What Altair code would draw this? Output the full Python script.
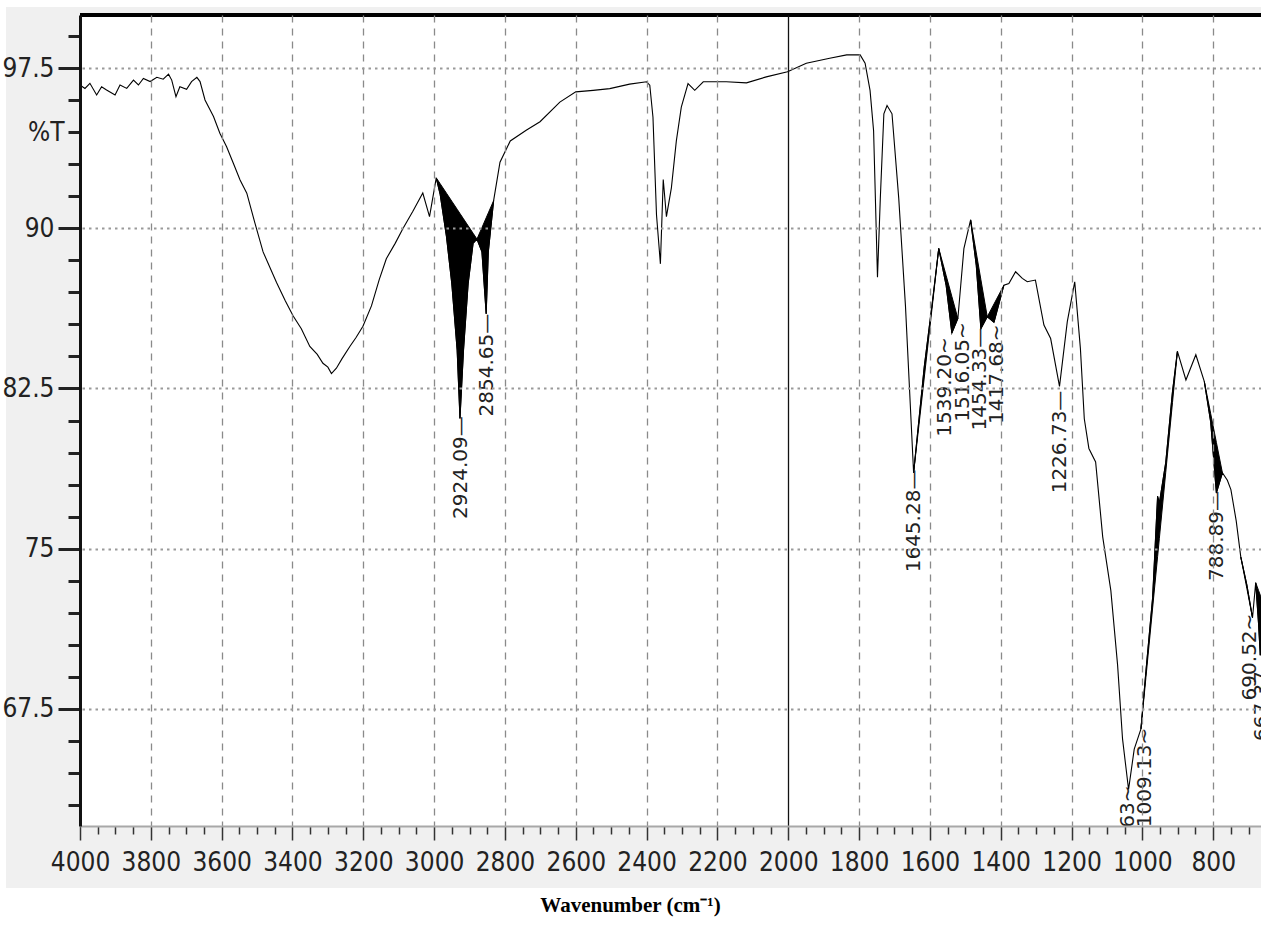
import altair as alt
import pandas as pd
import numpy as np

# ---- spectrum ----
wavenumber = [4000, 3986, 3972, 3953, 3939, 3925, 3901, 3887, 3868, 3849, 3835, 3821, 3802, 3783,
              3765, 3750, 3741, 3729, 3718, 3699, 3685, 3670, 3661, 3647, 3623, 3605, 3586, 3567,
              3548, 3529, 3506, 3483, 3445, 3420, 3398, 3375, 3351, 3330, 3314, 3300, 3290, 3276,
              3260, 3238, 3220, 3201, 3177, 3155, 3135, 3110, 3088, 3060, 3032, 3013, 2994,
              2983, 2965, 2950, 2935, 2927, 2917, 2904, 2890, 2879, 2865, 2853, 2847, 2832, 2814,
              2785, 2740, 2701, 2645, 2600, 2551, 2504, 2448, 2400, 2391, 2382, 2372, 2361, 2353,
              2344, 2330, 2316, 2302, 2283, 2264, 2240, 2175, 2118, 2062, 2002, 1949, 1883, 1835,
              1797, 1783, 1769, 1759, 1748, 1740, 1730, 1721, 1707, 1688, 1669, 1646, 1616, 1592,
              1575, 1554, 1538, 1521, 1504, 1485, 1469, 1456, 1438, 1419, 1391, 1377, 1358, 1339,
              1325, 1302, 1278, 1259, 1234, 1212, 1191, 1175, 1164, 1151, 1132, 1112, 1089, 1070,
              1056, 1039, 1023, 1004, 990, 971, 957, 952, 934, 915, 901, 877, 849, 825, 807, 791,
              774, 760, 750, 735, 722, 705, 689, 680, 672, 667, 660]
transmittance = [96.72, 96.56, 96.80, 96.25, 96.64, 96.49, 96.25, 96.72, 96.56, 96.95, 96.72, 97.03, 96.88, 97.08,
                 96.99, 97.23, 96.95, 96.17, 96.64, 96.52, 96.88, 97.08, 96.88, 96.02, 95.24, 94.46, 93.83, 93.05,
                 92.27, 91.65, 90.25, 88.90, 87.47, 86.60, 85.90, 85.30, 84.47, 84.10, 83.68, 83.50, 83.20, 83.45,
                 83.90, 84.47, 84.90, 85.42, 86.37, 87.60, 88.58, 89.30, 90.00, 90.80, 91.66, 90.55, 92.37,
                 91.60, 89.60, 87.40, 84.30, 81.10, 84.30, 87.40, 89.30, 89.50, 88.90, 86.00, 88.90, 91.30, 93.10,
                 94.10, 94.60, 95.00, 95.92, 96.40, 96.47, 96.55, 96.76, 96.87, 96.71, 95.21, 90.63, 88.34, 92.29,
                 90.55, 91.90, 94.10, 95.68, 96.79, 96.47, 96.87, 96.87, 96.82, 97.10, 97.34, 97.74, 97.97, 98.13,
                 98.13, 97.74, 96.47, 94.58, 87.71, 91.42, 95.37, 95.76, 95.37, 91.42, 86.37, 78.55, 83.50, 86.68,
                 89.06, 87.32, 85.10, 85.78, 89.05, 90.40, 88.26, 85.30, 85.86, 85.60, 87.34, 87.42, 87.97, 87.66,
                 87.50, 87.58, 85.47, 84.84, 82.60, 85.63, 87.50, 84.38, 81.08, 79.69, 79.06, 75.55, 73.03, 69.55,
                 66.08, 63.71, 65.60, 66.55, 69.24, 72.70, 77.45, 77.13, 79.03, 82.34, 84.24, 82.90, 84.08, 82.82, 80.92, 77.60,
                 78.55, 78.20, 77.76, 76.30, 74.60, 73.30, 71.76, 73.40, 71.50, 70.00, 72.50]

# shaded (black) peak regions: start / end wavenumbers
shade_start = [2994, 2879, 1646, 1575, 1485, 1438, 1004, 825, 722, 680]
shade_end = [2879, 2832, 1575, 1521, 1438, 1391, 901, 774, 689, 660]

# peak labels
peak_labels = ["2924.09\u2014", "2854.65\u2014", "1645.28\u2014", "1539.20~", "1516.05~",
               "1454.33\u2014", "1417.68~", "1226.73\u2014", "1039.63~", "1009.13~",
               "788.89\u2014", "690.52~", "667.37\u2014"]
label_wn = [2924, 2850, 1646, 1556, 1507, 1458, 1410, 1232, 1040, 992, 790, 695, 661]
label_T = [81.2, 86.0, 78.7, 84.9, 85.6, 85.35, 85.5, 82.4, 63.9, 66.6, 77.7, 71.95, 70.2]

x_ticks = list(range(700, 4001, 50))
y_ticks = [63, 64.5, 66, 67.5, 69, 70.5, 72, 73.5, 75, 76.5, 78, 79.5, 81, 82.5, 84, 85.5,
           87, 88.5, 90, 91.5, 93, 94.5, 96, 97.5, 99]

W, H = 1181, 811

spec = pd.DataFrame({"wn": wavenumber, "T": transmittance})

rows = []
for i, (a, b) in enumerate(zip(shade_start, shade_end)):
    seg = spec[(spec.wn <= a) & (spec.wn >= b)]
    ya = spec.loc[spec.wn == a, "T"].iloc[0]
    yb = spec.loc[spec.wn == b, "T"].iloc[0]
    for wn, t in zip(seg.wn, seg["T"]):
        chord = ya + (wn - a) * (yb - ya) / (b - a)
        rows.append({"region": i, "wn": wn, "T": t, "chord": chord})
shade = pd.DataFrame(rows)

labels = pd.DataFrame({"wn": label_wn, "T": label_T, "txt": peak_labels})

NARROW = "Liberation Sans Narrow, Arial Narrow, DejaVu Sans Condensed, Liberation Sans, Arial"

xmaj = "datum.value % 200 == 0"
ymaj = "abs(datum.value/7.5 - round(datum.value/7.5)) < 0.001"

x_axis = alt.Axis(
    values=x_ticks,
    labelExpr=f"{xmaj} ? format(datum.value, 'd') : ''",
    labelOverlap=False, labelFlush=False,
    labelFont=NARROW, labelFontSize=26, labelColor="#222", labelPadding=9,
    tickSize={"condition": {"test": xmaj, "value": 14}, "value": 8},
    tickColor="#333", tickWidth=1.5,
    domainColor="#a8a8a8", domainWidth=2,
    grid=True,
    gridOpacity={"condition": {"test": f"{xmaj} && datum.value != 4000", "value": 1}, "value": 0},
    gridColor={"condition": {"test": "datum.value == 2000", "value": "#111"}, "value": "#8a8a8a"},
    gridDash={"condition": {"test": "datum.value == 2000", "value": [1, 0]}, "value": [7, 6]},
    gridWidth=1.3,
    title="Wavenumber (cm\u207b\u00b9)",
    titleFont="Liberation Serif", titleFontWeight="bold", titleFontSize=21, titleColor="black",
    titleX=550, titleY=79, titleAlign="center", titleBaseline="middle", titleAngle=0,
    zindex=1,
)

y_axis = alt.Axis(
    values=y_ticks,
    labelExpr=f"datum.value == 94.5 ? '%T' : ({ymaj} ? format(datum.value, '~f') : '')",
    labelOverlap=False, labelFlush=False,
    labelFont=NARROW, labelFontSize=26, labelColor="#222", labelPadding=4,
    tickSize={"condition": {"test": ymaj, "value": 22}, "value": 12},
    tickColor="#222", tickWidth=3,
    domainColor="#111", domainWidth=3,
    grid=True,
    gridOpacity={"condition": {"test": ymaj, "value": 1}, "value": 0},
    gridColor="#9a9a9a", gridDash=[2.5, 4], gridWidth=2,
    title=None,
    zindex=1,
)

x_enc = alt.X("wn:Q", scale=alt.Scale(domain=[665, 4000], reverse=True, nice=False, zero=False), axis=x_axis)
y_enc = alt.Y("T:Q", scale=alt.Scale(domain=[62, 100], nice=False, zero=False), axis=y_axis)

one = pd.DataFrame({"a": [0]})

bg_gray = alt.Chart(one).mark_rect(color="#f0f0f0").encode(
    x=alt.value(-74), x2=alt.value(W), y=alt.value(-8), y2=alt.value(873))
bg_white = alt.Chart(one).mark_rect(color="white").encode(
    x=alt.value(0), x2=alt.value(W), y=alt.value(0), y2=alt.value(H))

area = alt.Chart(shade).mark_area(color="black", clip=True, opacity=1,
                                  stroke="black", strokeWidth=1).encode(
    x=x_enc, y=y_enc, y2="chord:Q", detail="region:N")

line = alt.Chart(spec).mark_line(color="black", strokeWidth=1.1, clip=True).encode(
    x=x_enc, y=y_enc)

text = alt.Chart(labels).mark_text(angle=270, align="right", baseline="middle",
                                   font="DejaVu Sans", fontSize=20, color="#222",
                                   clip=True).encode(
    x=x_enc, y=y_enc, text="txt:N")

top_border = alt.Chart(one).mark_rule(color="black", strokeWidth=4).encode(
    x=alt.value(0), x2=alt.value(W), y=alt.value(0))

chart = alt.layer(bg_gray, bg_white, area, line, text, top_border).properties(
    width=W, height=H,
    autosize=alt.AutoSizeParams(type="none"),
    padding={"left": 80, "top": 15, "right": 0, "bottom": 115},
    background="white",
).configure_view(stroke=None)

chart.save("out.html", embed_options={"renderer": "svg", "actions": False})
